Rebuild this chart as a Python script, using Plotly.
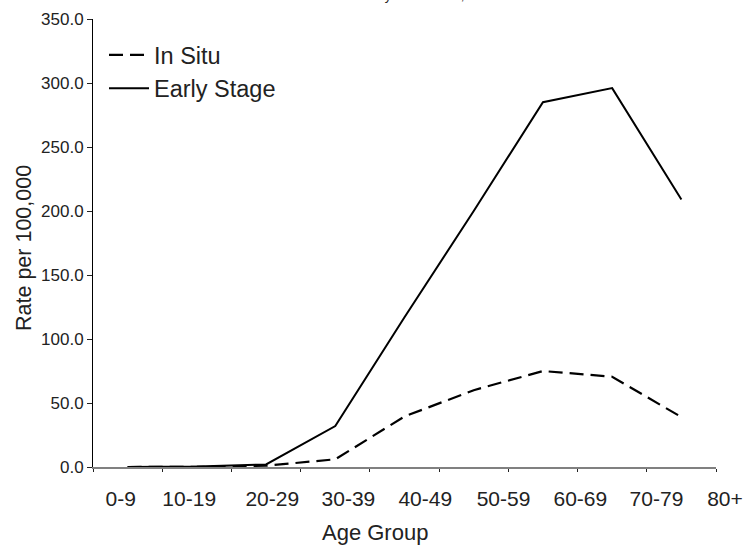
import plotly.graph_objects as go

age_groups = ["0-9", "10-19", "20-29", "30-39", "40-49", "50-59", "60-69", "70-79", "80+"]
in_situ = [0.0, 0.1, 1.0, 6.0, 39.5, 60.0, 75.0, 70.5, 39.0]
early_stage = [0.0, 0.3, 2.0, 32.0, 117.0, 200.0, 285.0, 296.0, 209.0]
y_ticks = [0, 50, 100, 150, 200, 250, 300, 350]
title_text = "Rates by Tumor Size, 2000"
x_title = "Age Group"
y_title = "Rate per 100,000"

# layout constants (label positions on the label axis, in category-index units)
label_pos = [-0.10, 0.89, 2.09, 3.19, 4.30, 5.43, 6.54, 7.64, 8.63]

W, H = 754, 548
ML, MR, MT, MB = 93, 0, 19, 81
plot_w = W - ML - MR
plot_h = H - MT - MB
axis_right_px = 716
dom1 = (axis_right_px - ML) / plot_w
cat_px = (axis_right_px - ML) / len(age_groups)
x2_max = -0.5 + plot_w / cat_px

FONT = "Liberation Sans, Arial, sans-serif"
NARROW = "Liberation Sans Narrow, Liberation Sans, Arial, sans-serif"
TXT = "#222222"

fig = go.Figure()
fig.add_trace(go.Scatter(
    x=age_groups, y=in_situ, name="In Situ", mode="lines",
    line=dict(color="black", width=2.2, dash="14px,7px"),
    xaxis="x", yaxis="y", hoverinfo="x+y"))
fig.add_trace(go.Scatter(
    x=age_groups, y=early_stage, name="Early Stage", mode="lines",
    line=dict(color="black", width=2), xaxis="x", yaxis="y", hoverinfo="x+y"))
# invisible trace so that the label axis is drawn
fig.add_trace(go.Scatter(x=[None], y=[None], xaxis="x2", yaxis="y",
                         showlegend=False, hoverinfo="skip"))

fig.update_layout(
    width=W, height=H,
    margin=dict(l=ML, r=MR, t=MT, b=MB, autoexpand=False),
    paper_bgcolor="white", plot_bgcolor="rgba(0,0,0,0)",
    font=dict(family=FONT, color=TXT),
    showlegend=True,
    legend=dict(x=(104 - ML) / plot_w, y=1 - (33 - MT) / plot_h,
                xanchor="left", yanchor="top", bgcolor="rgba(0,0,0,0)",
                font=dict(size=23.5, family=FONT, color=TXT),
                itemwidth=40, tracegroupgap=0),
    xaxis=dict(
        type="category", domain=[0, dom1], range=[-0.5, len(age_groups) - 0.5],
        showline=True, linecolor="#808080", linewidth=1.5,
        ticks="outside", tickson="boundaries", ticklen=3, tickcolor="#222222",
        showticklabels=False, showgrid=False, zeroline=False, fixedrange=True,
        automargin=False),
    xaxis2=dict(
        domain=[0, 1], range=[-0.5, x2_max], anchor="y",
        tickmode="array", tickvals=label_pos, ticktext=age_groups,
        showline=False, ticks="", showgrid=False, zeroline=False,
        tickfont=dict(size=21, family=FONT, color=TXT),
        ticklabelstandoff=17, fixedrange=True, automargin=False),
    yaxis=dict(
        range=[0, 350], tickmode="array", tickvals=y_ticks,
        tickformat=".1f", showline=True, linecolor="black", linewidth=1,
        ticks="outside", ticklen=5, tickcolor="#222222",
        showgrid=False, zeroline=False,
        tickfont=dict(size=17, family=NARROW, color=TXT),
        fixedrange=True, automargin=False),
    annotations=[
        dict(text=title_text, xref="paper", yref="paper",
             x=(338 - ML) / plot_w, y=1, xanchor="left", yanchor="bottom",
             yshift=14, showarrow=False,
             font=dict(size=13, family=FONT, color=TXT)),
        dict(text=x_title, xref="paper", yref="paper",
             x=(375 - ML) / plot_w, y=0, xanchor="center", yanchor="middle",
             yshift=-(532 - (H - MB)), showarrow=False,
             font=dict(size=22, family=FONT, color=TXT)),
        dict(text=y_title, xref="paper", yref="paper", textangle=-90,
             x=0, y=0.5, xanchor="center", yanchor="middle",
             xshift=-(ML - 24), yshift=(MT + plot_h / 2) - 248, showarrow=False,
             font=dict(size=21.5, family=FONT, color=TXT)),
    ],
)

fig.write_html("out.html",
               config={"displayModeBar": False, "staticPlot": True},
               post_script="document.body.style.margin='0px';document.body.style.padding='0px';")
